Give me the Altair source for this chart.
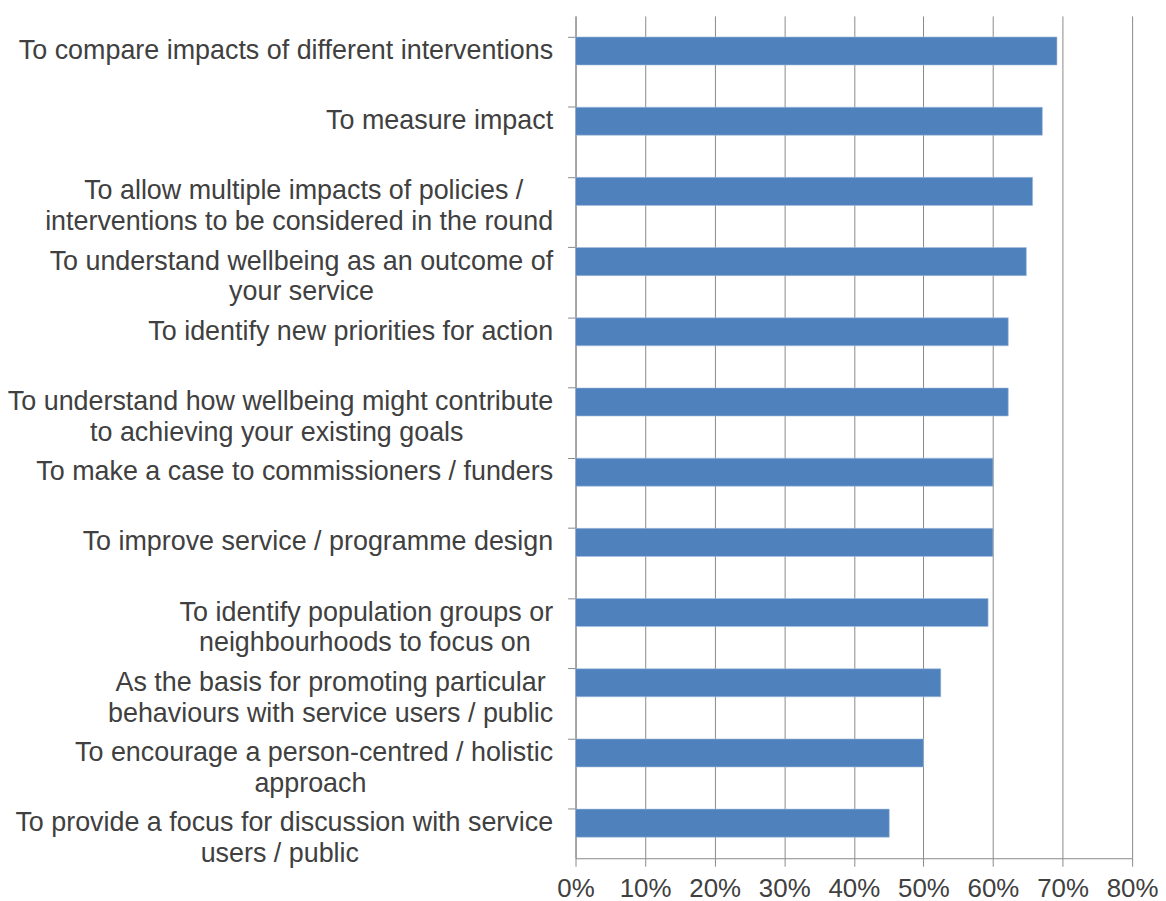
import altair as alt
import pandas as pd

# label lines (each category may span two lines)
label_lines = [
    ["To compare impacts of different interventions"],
    ["To measure impact"],
    ["To allow multiple impacts of policies /", "interventions to be considered in the round"],
    ["To understand wellbeing as an outcome of", "your service"],
    ["To identify new priorities for action"],
    ["To understand how wellbeing might contribute", "to achieving your existing goals"],
    ["To make a case to commissioners / funders"],
    ["To improve service / programme design"],
    ["To identify population groups or", "neighbourhoods to focus on"],
    ["As the basis for promoting particular", "behaviours with service users / public"],
    ["To encourage a person-centred / holistic", "approach"],
    ["To provide a focus for discussion with service", "users / public"],
]
values = [0.692, 0.671, 0.657, 0.648, 0.622, 0.622, 0.600, 0.600, 0.593, 0.525, 0.500, 0.451]

# Arial / Liberation Sans advance widths (per 1000 em) used to centre the lines
# of a two-line label inside its right-aligned block (as in the original chart)
ADV = {" ": 278, "a": 556, "b": 556, "c": 500, "d": 556, "e": 556, "f": 278, "g": 556,
       "h": 556, "i": 222, "j": 222, "k": 500, "l": 222, "m": 833, "n": 556, "o": 556,
       "p": 556, "q": 556, "r": 333, "s": 500, "t": 278, "u": 556, "v": 500, "w": 722,
       "x": 500, "y": 500, "z": 500, "T": 611, "A": 667, "/": 278, "-": 333}
NBSP = "\u00a0"
WJ = "\u2060"


def width(s):
    return sum(ADV.get(ch, 556) for ch in s)


def centred(lines):
    if len(lines) == 1:
        return lines[0]
    wmax = max(width(l) for l in lines)
    out = []
    for l in lines:
        n = int(round((wmax - width(l)) / 2 / ADV[" "]))
        out.append(l + (NBSP * n + WJ if n > 0 else ""))
    return "|".join(out)


categories = [centred(l) for l in label_lines]
df = pd.DataFrame({"category": categories, "value": values})

FONT = "Liberation Sans"
TEXT = "#404040"
GRID = "#898989"

chart = (
    alt.Chart(df)
    .mark_bar(color="#4F81BD", stroke="#A7BFDE", strokeWidth=0.6)
    .encode(
        x=alt.X(
            "value:Q",
            scale=alt.Scale(domain=[0, 0.8], nice=False),
            axis=alt.Axis(
                format=".0%",
                values=[0, 0.1, 0.2, 0.3, 0.4, 0.5, 0.6, 0.7, 0.8],
                title=None,
                grid=True,
                gridColor=GRID,
                gridWidth=1,
                domainColor=GRID,
                tickColor=GRID,
                tickSize=8,
                labelPadding=9,
                labelFontSize=26,
                labelFont=FONT,
                labelColor=TEXT,
                labelFlush=False,
            ),
        ),
        y=alt.Y(
            "category:N",
            sort=categories,
            scale=alt.Scale(paddingInner=0.6, paddingOuter=0.3),
            axis=alt.Axis(
                title=None,
                labelExpr="split(datum.label, '|')",
                labelFontSize=27,
                labelFont=FONT,
                labelColor=TEXT,
                labelLineHeight=31,
                labelPadding=15,
                labelLimit=800,
                tickSize=8,
                bandPosition=0,
                tickColor=GRID,
                domainColor=GRID,
                grid=False,
            ),
        ),
    )
    .properties(
        width=559,
        height=846,
        autosize=alt.AutoSizeParams(type="none"),
        padding={"left": 570, "top": 6, "right": 26, "bottom": 42},
    )
    .configure_view(stroke=None)
)

chart.save("out.html", embed_options={"renderer": "svg", "actions": False})
